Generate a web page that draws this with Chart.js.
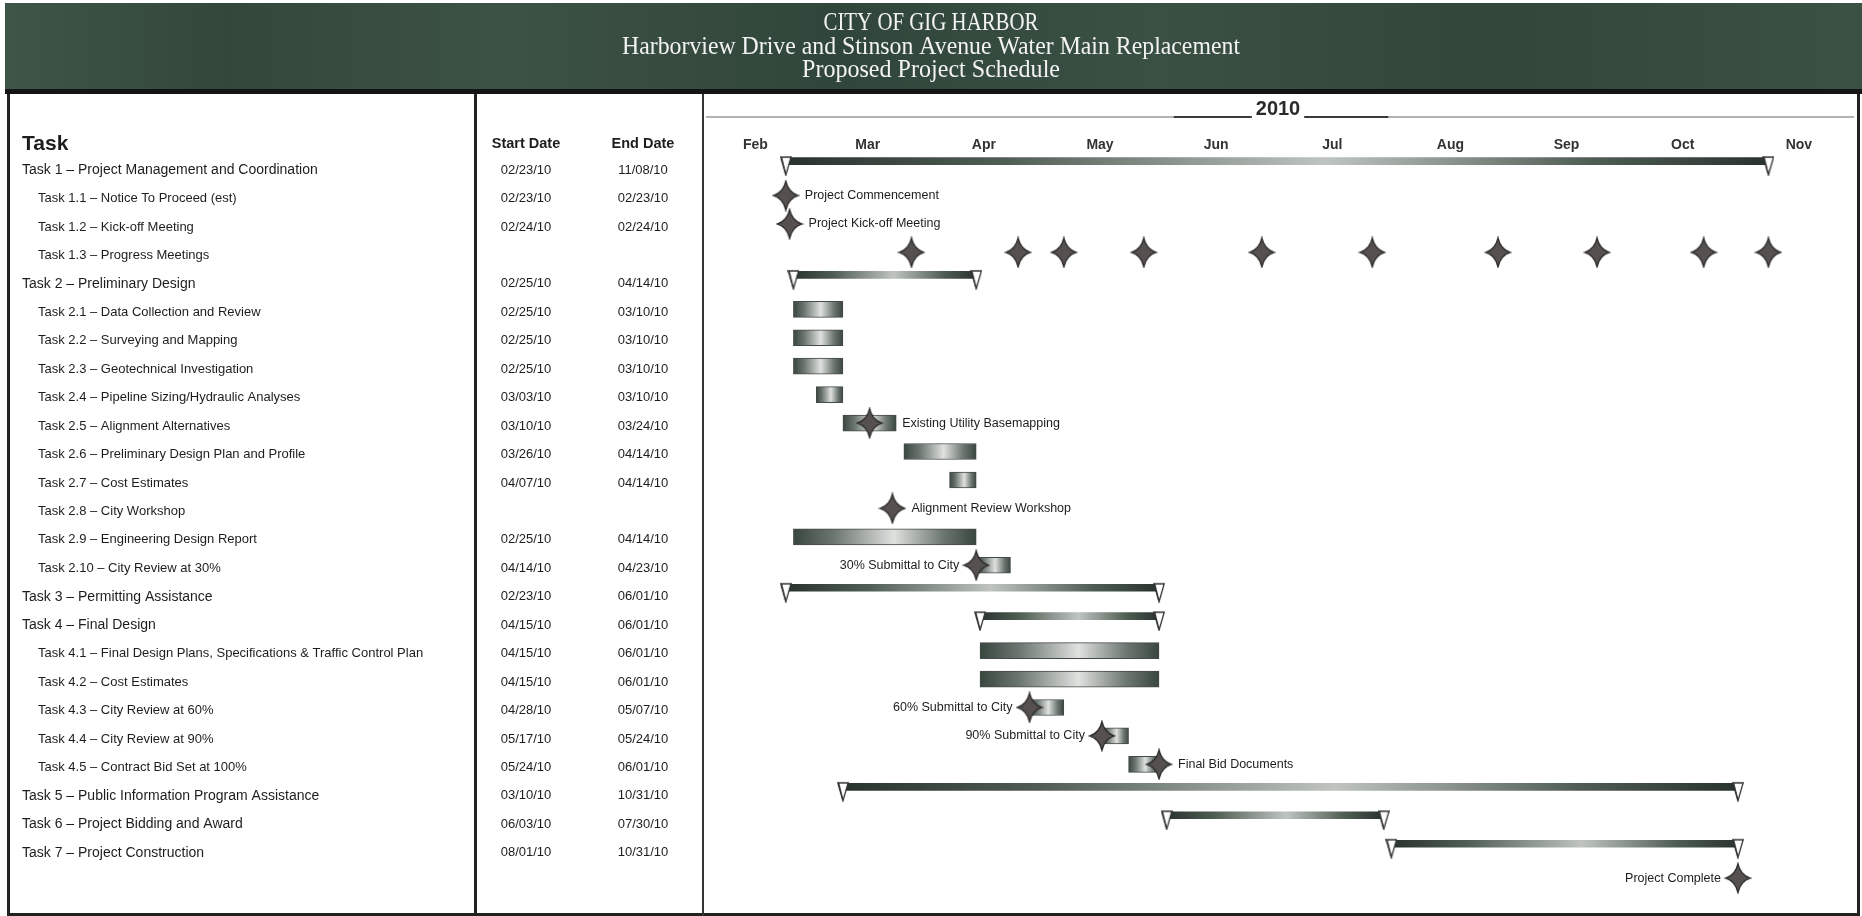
<!DOCTYPE html>
<html>
<head>
<meta charset="utf-8">
<title>City of Gig Harbor – Proposed Project Schedule</title>
<script src="https://cdn.jsdelivr.net/npm/chart.js@4.4.1/dist/chart.umd.min.js"></script>
<style>
  html, body { margin: 0; padding: 0; background: #ffffff; }
  #wrap { position: relative; width: 1862px; height: 916px; overflow: hidden; }
  canvas { display: block; }
</style>
</head>
<body>
<div id="wrap"><canvas id="schedule" width="1862" height="916"></canvas></div>
<script>
// ---------------- schedule data ----------------
const titleLines = [
  'CITY OF GIG HARBOR',
  'Harborview Drive and Stinson Avenue Water Main Replacement',
  'Proposed Project Schedule'
];
const yearLabel = '2010';
const months = ['Feb', 'Mar', 'Apr', 'May', 'Jun', 'Jul', 'Aug', 'Sep', 'Oct', 'Nov'];
const monthStarts = ['02/01/10', '03/01/10', '04/01/10', '05/01/10', '06/01/10', '07/01/10',
                     '08/01/10', '09/01/10', '10/01/10', '11/01/10', '12/01/10'];

const taskNames = [
  'Task 1 – Project Management and Coordination',
  'Task 1.1 – Notice To Proceed (est)',
  'Task 1.2 – Kick-off Meeting',
  'Task 1.3 – Progress Meetings',
  'Task 2 – Preliminary Design',
  'Task 2.1 – Data Collection and Review',
  'Task 2.2 – Surveying and Mapping',
  'Task 2.3 – Geotechnical Investigation',
  'Task 2.4 – Pipeline Sizing/Hydraulic Analyses',
  'Task 2.5 – Alignment Alternatives',
  'Task 2.6 – Preliminary Design Plan and Profile',
  'Task 2.7 – Cost Estimates',
  'Task 2.8 – City Workshop',
  'Task 2.9 – Engineering Design Report',
  'Task 2.10 – City Review at 30%',
  'Task 3 – Permitting Assistance',
  'Task 4 – Final Design',
  'Task 4.1 – Final Design Plans, Specifications & Traffic Control Plan',
  'Task 4.2 – Cost Estimates',
  'Task 4.3 – City Review at 60%',
  'Task 4.4 – City Review at 90%',
  'Task 4.5 – Contract Bid Set at 100%',
  'Task 5 – Public Information Program Assistance',
  'Task 6 – Project Bidding and Award',
  'Task 7 – Project Construction'
];
const taskLevels = [0, 1, 1, 1, 0, 1, 1, 1, 1, 1, 1, 1, 1, 1, 1, 0, 0, 1, 1, 1, 1, 1, 0, 0, 0];
const startDates = [
  '02/23/10', '02/23/10', '02/24/10', '', '02/25/10', '02/25/10', '02/25/10', '02/25/10',
  '03/03/10', '03/10/10', '03/26/10', '04/07/10', '', '02/25/10', '04/14/10', '02/23/10',
  '04/15/10', '04/15/10', '04/15/10', '04/28/10', '05/17/10', '05/24/10', '03/10/10',
  '06/03/10', '08/01/10'
];
const endDates = [
  '11/08/10', '02/23/10', '02/24/10', '', '04/14/10', '03/10/10', '03/10/10', '03/10/10',
  '03/10/10', '03/24/10', '04/14/10', '04/14/10', '', '04/14/10', '04/23/10', '06/01/10',
  '06/01/10', '06/01/10', '06/01/10', '05/07/10', '05/24/10', '06/01/10', '10/31/10',
  '07/30/10', '10/31/10'
];
const summaryRows = [0, 4, 15, 16, 22, 23, 24];

const milestoneRows = [1, 2, 9, 12, 14, 19, 20, 21, 25];
const milestoneDates = ['02/23/10', '02/24/10', '03/17/10', '03/23/10', '04/14/10',
                        '04/28/10', '05/17/10', '06/01/10', '10/31/10'];
const milestoneLabels = ['Project Commencement', 'Project Kick-off Meeting',
  'Existing Utility Basemapping', 'Alignment Review Workshop', '30% Submittal to City',
  '60% Submittal to City', '90% Submittal to City', 'Final Bid Documents', 'Project Complete'];
const milestoneSides = ['right', 'right', 'right', 'right', 'left', 'left', 'left', 'right', 'left'];

const meetingRow = 3;
const meetingDates = ['03/28/10', '04/25/10', '05/07/10', '05/28/10', '06/28/10',
                      '07/27/10', '08/29/10', '09/24/10', '10/22/10', '11/08/10'];

// ---------------- helpers ----------------
const dayOfYear = s => {
  const [m, d, y] = s.split('/').map(Number);
  return (Date.UTC(2000 + y, m - 1, d) - Date.UTC(2000 + y, 0, 1)) / 864e5 + 1;
};

const SANS = '"Liberation Sans", Arial, sans-serif';
const SERIF = '"Liberation Serif", "Times New Roman", serif';
const TEXT = '#1d1d1d';

function makeStar(w, h) {
  const c = document.createElement('canvas');
  c.width = w; c.height = h;
  const g = c.getContext('2d');
  const cx = w / 2, cy = h / 2, rx = w / 2 - 1.5, ry = h / 2 - 1.5, k = 0.2;
  g.beginPath();
  g.moveTo(cx, cy - ry);
  g.quadraticCurveTo(cx + rx * k, cy - ry * k, cx + rx, cy);
  g.quadraticCurveTo(cx + rx * k, cy + ry * k, cx, cy + ry);
  g.quadraticCurveTo(cx - rx * k, cy + ry * k, cx - rx, cy);
  g.quadraticCurveTo(cx - rx * k, cy - ry * k, cx, cy - ry);
  g.closePath();
  g.fillStyle = '#56514f';
  g.fill();
  g.lineWidth = 1.2;
  g.strokeStyle = '#2a2a2a';
  g.stroke();
  return c;
}

function makeEndMarker(w, h) {
  const c = document.createElement('canvas');
  c.width = w; c.height = h;
  const g = c.getContext('2d');
  const top = h / 2 - 4, tip = h - 1;
  g.beginPath();
  g.moveTo(0.8, top);
  g.lineTo(w - 0.8, top);
  g.lineTo(w / 2, tip);
  g.closePath();
  g.fillStyle = '#ffffff';
  g.fill();
  g.lineWidth = 1.3;
  g.strokeStyle = '#333333';
  g.stroke();
  g.beginPath();
  g.moveTo(1.6, top);
  g.lineTo(w / 2 - 0.4, tip - 2);
  g.stroke();
  return c;
}

const STAR = makeStar(28, 32);
const END_MARK = makeEndMarker(12, 30);

function shadedBar(dark, mid, light) {
  return ctx => {
    const chart = ctx.chart;
    const raw = ctx.raw;
    if (!chart.chartArea || !raw || !Array.isArray(raw.x)) return dark;
    const xs = chart.scales.x;
    const x0 = xs.getPixelForValue(raw.x[0]);
    const x1 = xs.getPixelForValue(raw.x[1]);
    if (!isFinite(x0) || !isFinite(x1) || x1 - x0 < 1) return dark;
    const grad = chart.ctx.createLinearGradient(x0, 0, x1, 0);
    grad.addColorStop(0, dark);
    grad.addColorStop(0.22, mid);
    grad.addColorStop(0.55, light);
    grad.addColorStop(0.82, mid);
    grad.addColorStop(1, dark);
    return grad;
  };
}

// ---------------- datasets built from the table ----------------
const detailRows = taskNames.map((_, i) => i).filter(i =>
  !summaryRows.includes(i) && startDates[i] && endDates[i] && startDates[i] !== endDates[i]);

const summaryBars = summaryRows.map(r => ({ x: [dayOfYear(startDates[r]), dayOfYear(endDates[r])], y: r }));
const detailBars = detailRows.map(r => ({ x: [dayOfYear(startDates[r]), dayOfYear(endDates[r])], y: r }));
const endMarkers = summaryRows.flatMap(r => [
  { x: dayOfYear(startDates[r]), y: r },
  { x: dayOfYear(endDates[r]), y: r }
]);
const milestonePoints = milestoneRows.map((r, i) => ({ x: dayOfYear(milestoneDates[i]), y: r }));
const meetingPoints = meetingDates.map(d => ({ x: dayOfYear(d), y: meetingRow }));
const monthStartDays = monthStarts.map(dayOfYear);
const monthMidDays = months.map((_, i) => (monthStartDays[i] + monthStartDays[i + 1]) / 2);

// ---------------- page furniture, table and labels ----------------
const TITLE_Y = [23, 47, 70];
const TITLE_W = [215, 618, 258];
const DATE_COL = [526, 643];
const HEAD_Y = 144;

const furniture = {
  id: 'furniture',
  beforeDraw(chart) {
    const g = chart.ctx;
    const W = chart.width, H = chart.height;
    const area = chart.chartArea;
    g.save();
    g.fillStyle = '#ffffff';
    g.fillRect(0, 0, W, H);

    // title band
    const band = g.createLinearGradient(0, 0, W, 0);
    [['#3e5547', 0], ['#33483b', 0.12], ['#3c5244', 0.27], ['#31463a', 0.45],
     ['#3a5043', 0.62], ['#32473a', 0.8], ['#3b5143', 1]].forEach(([c, p]) => band.addColorStop(p, c));
    g.fillStyle = band;
    g.fillRect(5, 3, W - 5, 87);
    g.fillStyle = '#141414';
    g.fillRect(5, 89, W - 5, 5);

    g.fillStyle = '#f3f3f3';
    g.textAlign = 'center';
    g.textBaseline = 'middle';
    g.font = '23px ' + SERIF;
    titleLines.forEach((t, i) => {
      const w = g.measureText(t).width;
      g.save();
      g.translate(931, TITLE_Y[i]);
      g.scale(TITLE_W[i] / w, 1.1);
      g.fillText(t, 0, 0);
      g.restore();
    });

    // frame and column rules
    g.fillStyle = '#222222';
    g.fillRect(7, 94, 3, H - 94);
    g.fillRect(W - 5, 94, 3, H - 94);
    g.fillRect(7, H - 3, W - 10, 3);
    g.fillRect(474, 94, 3, H - 94);
    g.fillStyle = '#333333';
    g.fillRect(area.left, 94, 2, H - 94);

    // year rule
    const yy = 117, yx = 1278;
    g.font = 'bold 20px ' + SANS;
    g.textAlign = 'center';
    g.textBaseline = 'middle';
    g.fillStyle = '#2a2a2a';
    g.fillText(yearLabel, yx, 109);
    const half = g.measureText(yearLabel).width / 2 + 4;
    g.lineWidth = 2;
    g.strokeStyle = '#b3b3b3';
    g.beginPath();
    g.moveTo(area.left + 4, yy); g.lineTo(yx - half, yy);
    g.moveTo(yx + half, yy); g.lineTo(W - 8, yy);
    g.stroke();
    g.strokeStyle = '#3a3a3a';
    g.beginPath();
    g.moveTo(yx - half - 78, yy); g.lineTo(yx - half, yy);
    g.moveTo(yx + half, yy); g.lineTo(yx + half + 84, yy);
    g.stroke();

    // table headings
    g.fillStyle = TEXT;
    g.textAlign = 'left';
    g.font = 'bold 21px ' + SANS;
    g.fillText('Task', 22, HEAD_Y);
    g.textAlign = 'center';
    g.font = 'bold 14.5px ' + SANS;
    g.fillText('Start Date', DATE_COL[0], HEAD_Y);
    g.fillText('End Date', DATE_COL[1], HEAD_Y);

    // task rows
    const ys = chart.scales.y;
    taskNames.forEach((name, i) => {
      const y = ys.getPixelForValue(i) + 3;
      g.textAlign = 'left';
      g.font = (taskLevels[i] ? '13px ' : '14px ') + SANS;
      g.fillText(name, taskLevels[i] ? 38 : 22, y);
      g.textAlign = 'center';
      g.font = '13px ' + SANS;
      if (startDates[i]) g.fillText(startDates[i], DATE_COL[0], y);
      if (endDates[i]) g.fillText(endDates[i], DATE_COL[1], y);
    });
    g.restore();
  },
  afterDatasetsDraw(chart) {
    const g = chart.ctx;
    const xs = chart.scales.x, ys = chart.scales.y;
    g.save();
    g.fillStyle = TEXT;
    g.font = '12.5px ' + SANS;
    g.textBaseline = 'middle';
    milestoneRows.forEach((r, i) => {
      const x = xs.getPixelForValue(dayOfYear(milestoneDates[i]));
      const y = ys.getPixelForValue(r);
      const hasBar = detailRows.includes(r);
      if (milestoneSides[i] === 'right') {
        let x0 = x + STAR.width / 2 + 5;
        if (hasBar) x0 = Math.max(x0, xs.getPixelForValue(dayOfYear(endDates[r])) + 6);
        g.textAlign = 'left';
        g.fillText(milestoneLabels[i], x0, y);
      } else {
        let x1 = x - STAR.width / 2 - 3;
        if (hasBar) x1 = Math.min(x1, xs.getPixelForValue(dayOfYear(startDates[r])) - 4);
        g.textAlign = 'right';
        g.fillText(milestoneLabels[i], x1, y);
      }
    });
    g.restore();
  }
};

// ---------------- chart ----------------
const ROW_MIN = -0.39, ROW_MAX = 26.12, SUMMARY_SHIFT = 0.21;

new Chart(document.getElementById('schedule'), {
  type: 'bar',
  data: {
    datasets: [
      {
        type: 'scatter',
        label: 'Milestones',
        data: milestonePoints.concat(meetingPoints),
        xAxisID: 'x', yAxisID: 'y',
        pointStyle: STAR,
        order: 0
      },
      {
        type: 'scatter',
        label: 'Summary ends',
        data: endMarkers,
        xAxisID: 'x', yAxisID: 'ySum',
        pointStyle: END_MARK,
        order: 1
      },
      {
        type: 'bar',
        label: 'Summary tasks',
        indexAxis: 'y',
        data: summaryBars,
        xAxisID: 'x', yAxisID: 'ySum',
        barThickness: 7,
        grouped: false,
        borderSkipped: false,
        borderWidth: 0,
        backgroundColor: shadedBar('#28332d', '#4f5d54', '#bfc4c0'),
        order: 2
      },
      {
        type: 'bar',
        label: 'Tasks',
        indexAxis: 'y',
        data: detailBars,
        xAxisID: 'x', yAxisID: 'y',
        barThickness: 16,
        grouped: false,
        borderSkipped: false,
        borderWidth: 1,
        borderColor: '#444a46',
        backgroundColor: shadedBar('#38463e', '#6c7670', '#dfe1df'),
        order: 3
      }
    ]
  },
  options: {
    responsive: false,
    animation: false,
    devicePixelRatio: 1,
    events: [],
    layout: { padding: { left: 702, right: 6, top: 116, bottom: 6 } },
    plugins: {
      legend: { display: false },
      tooltip: { enabled: false },
      title: { display: false }
    },
    scales: {
      x: {
        type: 'linear',
        position: 'top',
        offset: false,
        min: monthStartDays[0],
        max: monthStartDays[monthStartDays.length - 1],
        grid: { display: false, drawTicks: false, offset: false },
        border: { display: false },
        afterBuildTicks: scale => { scale.ticks = monthMidDays.map(v => ({ value: v })); },
        afterFit: scale => { scale.height = 40; },
        ticks: {
          autoSkip: false,
          maxRotation: 0,
          padding: 2,
          color: '#333333',
          font: { family: 'Liberation Sans', size: 14, weight: 'bold' },
          callback: (v, i) => months[i]
        }
      },
      y: {
        type: 'linear',
        display: false,
        offset: false,
        grid: { offset: false },
        reverse: true,
        min: ROW_MIN,
        max: ROW_MAX
      },
      ySum: {
        type: 'linear',
        axis: 'y',
        display: false,
        offset: false,
        grid: { offset: false },
        reverse: true,
        min: ROW_MIN + SUMMARY_SHIFT,
        max: ROW_MAX + SUMMARY_SHIFT
      }
    }
  },
  plugins: [furniture]
});
</script>
</body>
</html>
